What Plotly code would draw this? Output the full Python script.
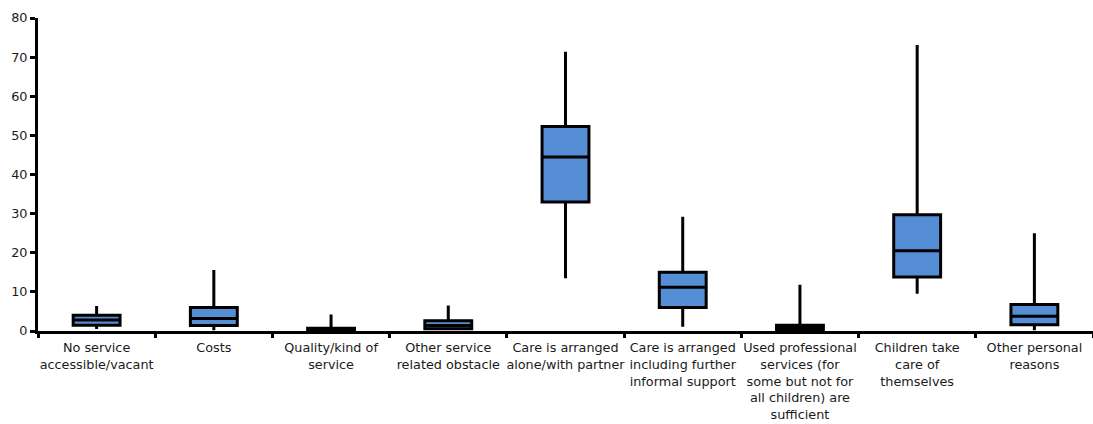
import plotly.graph_objects as go

categories = [
    "No service<br>accessible/vacant",
    "Costs",
    "Quality/kind of<br>service",
    "Other service<br>related obstacle",
    "Care is arranged<br>alone/with partner",
    "Care is arranged<br>including further<br>informal support",
    "Used professional<br>services (for<br>some but not for<br>all children) are<br>sufficient",
    "Children take<br>care of<br>themselves",
    "Other personal<br>reasons",
]
lower_whisker = [0.5, 0.2, 0.1, 0.2, 13.5, 1.1, 0.1, 9.5, 0.2]
q1_values = [1.5, 1.4, 0.2, 0.6, 33.0, 6.0, 0.3, 13.8, 1.6]
median_values = [2.8, 3.2, 0.5, 1.4, 44.5, 11.2, 0.8, 20.5, 3.8]
q3_values = [4.0, 6.0, 0.7, 2.6, 52.3, 15.0, 1.5, 29.7, 6.8]
upper_whisker = [6.4, 15.6, 4.2, 6.5, 71.4, 29.2, 11.8, 73.1, 25.0]
y_ticks = [0, 10, 20, 30, 40, 50, 60, 70, 80]

fig = go.Figure()
fig.add_trace(go.Box(
    x=categories,
    q1=q1_values,
    median=median_values,
    q3=q3_values,
    lowerfence=lower_whisker,
    upperfence=upper_whisker,
    fillcolor="#558ED5",
    line=dict(color="black", width=3),
    whiskerwidth=0,
    width=0.4,
    showlegend=False,
    hoverinfo="skip",
))

font = dict(family="DejaVu Sans, sans-serif", size=12.8, color="#1a1a1a")
fig.update_layout(
    width=1093, height=424,
    margin=dict(l=38, r=0, t=18, b=93),
    plot_bgcolor="white", paper_bgcolor="white",
    font=font,
)
fig.update_yaxes(
    range=[0, 80], tickvals=y_ticks, showgrid=False, zeroline=False,
    showline=True, linecolor="black", linewidth=3,
    ticks="outside", ticklen=5, tickwidth=3, tickcolor="black",
    tickfont=font, automargin=False,
)
fig.update_xaxes(
    range=[-0.5, len(categories) - 0.5],
    showgrid=False, zeroline=False, showline=True, linecolor="black", linewidth=3,
    ticks="outside", tickson="boundaries", ticklen=4, tickwidth=3, tickcolor="black",
    tickfont=font, tickangle=0, automargin=False, ticklabelstandoff=3,
)
fig.write_html(
    "out.html",
    config={"displayModeBar": False},
    post_script="document.body.style.margin='0';",
)
